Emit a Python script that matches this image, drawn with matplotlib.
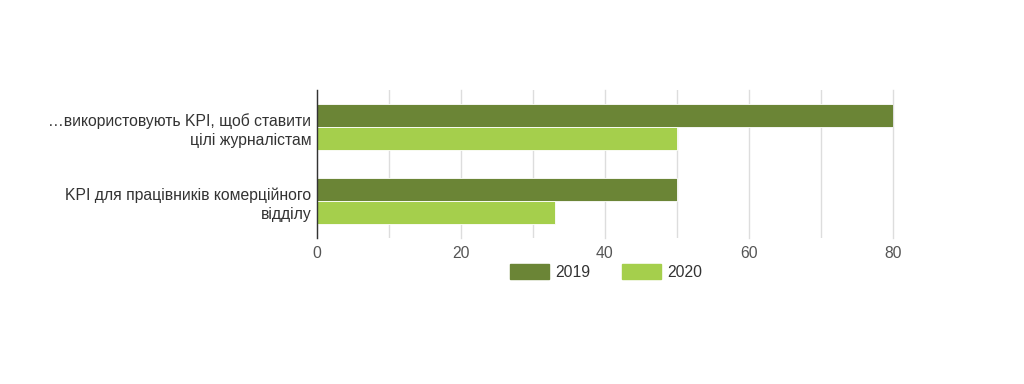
import matplotlib
matplotlib.use("Agg")
import matplotlib.pyplot as plt
import numpy as np
from matplotlib.patches import Patch

categories = ["…використовують KPI, щоб ставити\nцілі журналістам",
              "KPI для працівників комерційного\nвідділу"]
series_names = ["2019", "2020"]
values_2019 = [80, 50]
values_2020 = [50, 33]
colors = ["#6b8536", "#a5cf4c"]

plt.rcParams['font.family'] = ['Liberation Sans', 'DejaVu Sans']

fig = plt.figure(figsize=(10.24, 3.84), dpi=100)
ax = fig.add_axes([317/1024, 1-238/384, (893-317)/1024, 148/384])

y = np.arange(len(categories))
h = 0.31
ax.barh(y - h/2, values_2019, height=h, color=colors[0], edgecolor='white', linewidth=0.6, zorder=3)
ax.barh(y + h/2, values_2020, height=h, color=colors[1], edgecolor='white', linewidth=0.6, zorder=3)

ax.set_ylim(len(categories) - 0.5, -0.5)
ax.set_xlim(0, 80)
ax.set_xticks([0, 20, 40, 60, 80])
ax.set_xticks([10, 30, 50, 70], minor=True)
ax.grid(axis='x', which='both', color='#dddddd', linewidth=1, zorder=0)
for gl in ax.get_xgridlines():
    gl.set_clip_on(False)
ax.set_yticks(y)
ax.set_yticklabels(categories, fontsize=11.3, color='#333333', ha='right', linespacing=1.35)
ax.tick_params(axis='y', length=0, pad=4)
ax.tick_params(axis='x', which='both', length=0, pad=6, labelsize=11.3, labelcolor='#555555')
for s in ['top', 'right', 'bottom']:
    ax.spines[s].set_visible(False)
ax.spines['left'].set_color('#333333')
ax.spines['left'].set_linewidth(1)
ax.spines['left'].set_zorder(4)

handles = [Patch(color=c) for c in colors]
fig.legend(handles, series_names, loc='center', bbox_to_anchor=(606/1024, 1-272/384),
           ncol=2, frameon=False, fontsize=11.3, handlelength=2.5, handleheight=1.1,
           handletextpad=0.4, columnspacing=2.0, labelcolor='#333333')

fig.savefig("out.png", dpi=100, facecolor='white')
